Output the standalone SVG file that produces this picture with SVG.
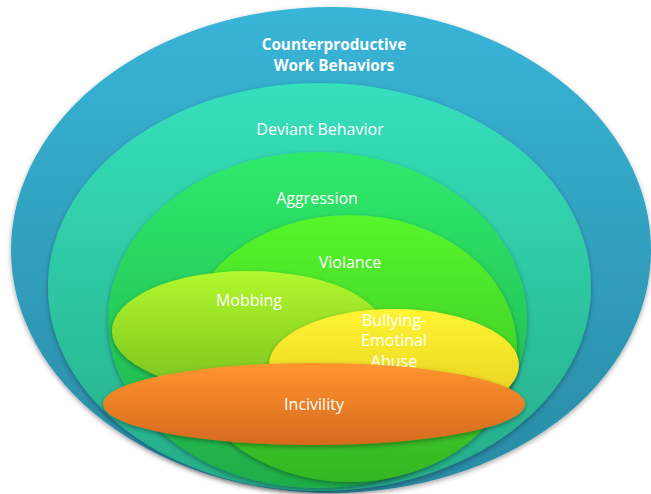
<svg xmlns="http://www.w3.org/2000/svg" width="651" height="494" viewBox="0 0 651 494">
<defs>
<linearGradient id="gBlue" x1="0" y1="0" x2="0" y2="1"><stop offset="0" stop-color="#38B5D8"/><stop offset="1" stop-color="#2A8AA4"/></linearGradient>
<linearGradient id="gTeal" x1="0" y1="0" x2="0" y2="1"><stop offset="0" stop-color="#36E0BC"/><stop offset="1" stop-color="#26AD88"/></linearGradient>
<linearGradient id="gAgg" x1="0" y1="0" x2="0" y2="1"><stop offset="0" stop-color="#2FEA6C"/><stop offset="1" stop-color="#1FAD48"/></linearGradient>
<linearGradient id="gVio" x1="0" y1="0" x2="0" y2="1"><stop offset="0" stop-color="#56F62C"/><stop offset="1" stop-color="#35B624"/></linearGradient>
<linearGradient id="gMob" x1="0" y1="0" x2="0" y2="1"><stop offset="0" stop-color="#B2F82E"/><stop offset="1" stop-color="#7AC21E"/></linearGradient>
<linearGradient id="gBul" x1="0" y1="0" x2="0" y2="1"><stop offset="0" stop-color="#FFF432"/><stop offset="1" stop-color="#E2CC20"/></linearGradient>
<linearGradient id="gInc" x1="0" y1="0" x2="0" y2="1"><stop offset="0" stop-color="#FF952F"/><stop offset="1" stop-color="#D66A1E"/></linearGradient>
<filter id="sh" x="-10%" y="-10%" width="120%" height="120%"><feDropShadow dx="0" dy="2" stdDeviation="2.5" flood-color="#000" flood-opacity="0.35"/></filter>
</defs>
<style>
.lbl{fill:#ffffff;font-family:"Open Sans","Liberation Sans",sans-serif;font-size:16px;text-anchor:middle}
.b{font-weight:bold;font-size:15.3px}
ellipse{filter:url(#sh)}
</style>
<rect width="651" height="494" fill="#ffffff"/>
<g id="cwb"><ellipse cx="331" cy="250" rx="320" ry="243" fill="url(#gBlue)"/>
<text class="lbl b" x="334" y="50">Counterproductive</text><text class="lbl b" x="334" y="71">Work Behaviors</text></g>
<g id="deviant"><ellipse cx="319.5" cy="287" rx="271.5" ry="204" fill="url(#gTeal)"/>
<text class="lbl" x="320" y="135">Deviant Behavior</text></g>
<g id="aggression"><ellipse cx="317.5" cy="320" rx="209.5" ry="168" fill="url(#gAgg)"/>
<text class="lbl" x="317" y="204">Aggression</text></g>
<g id="violance"><ellipse cx="350" cy="348.5" rx="167" ry="133.5" fill="url(#gVio)"/>
<text class="lbl" x="350" y="268">Violance</text></g>
<g id="mobbing"><ellipse cx="248" cy="331" rx="136" ry="60" fill="url(#gMob)"/>
<text class="lbl" x="249" y="306">Mobbing</text></g>
<g id="bullying"><ellipse cx="394" cy="365" rx="125" ry="56" fill="url(#gBul)"/>
<text class="lbl" x="394" y="326">Bullying-</text><text class="lbl" x="394" y="346">Emotinal</text><text class="lbl" x="394" y="367">Abuse</text></g>
<g id="incivility"><ellipse cx="314" cy="404" rx="211" ry="41" fill="url(#gInc)"/>
<text class="lbl" x="314" y="410">Incivility</text></g>
<g id="connectors"/>
</svg>
